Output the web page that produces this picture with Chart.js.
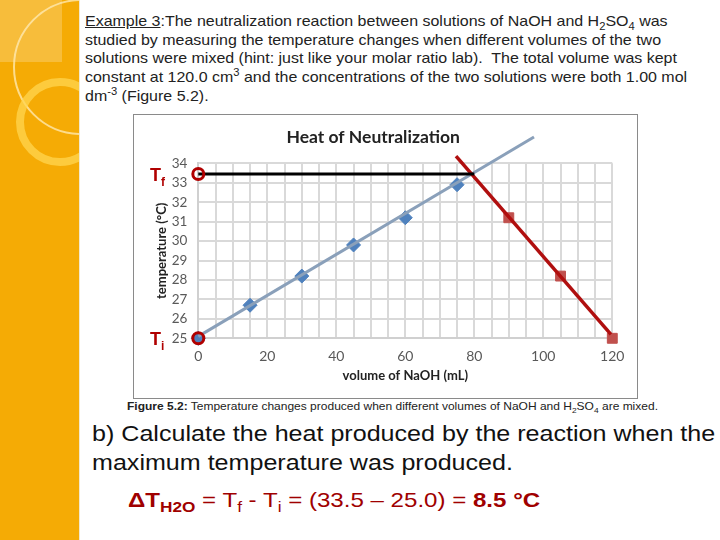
<!DOCTYPE html>
<html>
<head>
<meta charset="utf-8">
<script src="https://cdn.jsdelivr.net/npm/chart.js"></script>
<style>
    html, body { margin: 0; padding: 0; width: 720px; height: 540px; overflow: hidden; background: #fff; }
    body { position: relative; font-family: 'Liberation Sans', Arial, sans-serif; }
    .bar { position: absolute; left: 0; top: 0; width: 79px; height: 540px; background: #f5ab05; overflow: hidden; }
    .bar .sq { position: absolute; left: 0; top: 0; width: 62px; height: 62px; background: rgba(255,255,255,0.22); }
    .bar .c1 { position: absolute; left: 13px; top: -1px; width: 136px; height: 136px; border: 2px solid rgba(255,236,185,0.75); border-radius: 50%; box-sizing: border-box; }
    .bar .c2 { position: absolute; left: 16px; top: 78px; width: 88px; height: 88px; border: 8px solid rgba(255,214,80,0.75); border-radius: 50%; box-sizing: border-box; }
    .edge { position: absolute; left: 79px; top: 0; width: 1px; height: 540px; background: #f1e8cf; }
    .intro { position: absolute; left: 85px; top: 12px; font-size: 15px; line-height: 18.7px; color: #222; white-space: pre; transform: scaleX(1.065); transform-origin: 0 0; }
    .intro sub, .intro sup, .cap sub { font-size: 0.7em; line-height: 0; }
    .frame { position: absolute; left: 133px; top: 114px; width: 505px; height: 285px; border: 1px solid #8a8a8a; box-sizing: border-box; background: #fff; }
    .frame canvas { display: block; }
    .tlab { position: absolute; color: #b00000; font-weight: bold; font-size: 18px; line-height: 18px; }
    .tlab sub { font-size: 12px; line-height: 0; }
    .cap { position: absolute; left: 127px; top: 400px; font-size: 11.5px; color: #222; white-space: pre; transform: scaleX(1.043); transform-origin: 0 0; }
    .ques { position: absolute; left: 92px; top: 420px; font-size: 22px; line-height: 28.5px; color: #111; white-space: pre; transform: scaleX(1.14); transform-origin: 0 0; }
    .delta { position: absolute; left: 128px; top: 488px; font-size: 21px; color: #a00000; white-space: pre; transform: scaleX(1.147); transform-origin: 0 0; }
    .delta sub { font-size: 15px; line-height: 0; }
</style>
</head>
<body>
<div class="bar"><div class="sq"></div><div class="c1"></div><div class="c2"></div></div>
<div class="edge"></div>

<div class="intro"><div><u>Example 3</u>:The neutralization reaction between solutions of NaOH and H<sub>2</sub>SO<sub>4</sub> was</div><div>studied by measuring the temperature changes when different volumes of the two</div><div>solutions were mixed (hint: just like your molar ratio lab).  The total volume was kept</div><div>constant at 120.0 cm<sup>3</sup> and the concentrations of the two solutions were both 1.00 mol</div><div>dm<sup>-3</sup> (Figure 5.2).</div></div>

<div class="frame"><canvas id="heatChart" width="503" height="283"></canvas></div>
<div class="tlab" style="left:150px; top:166px;">T<sub>f</sub></div>
<div class="tlab" style="left:150px; top:330px;">T<sub>i</sub></div>

<div class="cap"><b>Figure 5.2:</b> Temperature changes produced when different volumes of NaOH and H<sub>2</sub>SO<sub>4</sub> are mixed.</div>
<div class="ques">b) Calculate the heat produced by the reaction when the
maximum temperature was produced.</div>
<div class="delta"><b>ΔT<sub>H2O</sub></b> = T<sub>f</sub> - T<sub>i</sub> = (33.5 – 25.0) = <b>8.5 °C</b></div>

<script>
const naohVolume = [0, 15, 30, 45, 60, 75];
const tempRising = [25.0, 26.7, 28.2, 29.8, 31.2, 32.9];
const excessVolume = [90, 105, 120];
const tempFalling = [31.2, 28.2, 25.0];

// hand-drawn lines on the slide
const riseLineX = [0, 97.3];
const riseLineY = [25.1, 35.35];
const fallLineX = [74.7, 119.6];
const fallLineY = [34.37, 25.2];
const tfLineX = [0, 80];
const tempFinal = 33.45;
const tempInitial = 25.0;

const xTicks = [0, 20, 40, 60, 80, 100, 120];

const toPoints = (xs, ys) => xs.map((x, i) => ({ x: x, y: ys[i] }));

const ctx = document.getElementById('heatChart').getContext('2d');
new Chart(ctx, {
    type: 'scatter',
    data: {
        datasets: [
            {
                label: 'Tf / Ti',
                data: [{ x: 0, y: tempFinal }, { x: 0, y: tempInitial }],
                pointStyle: 'circle',
                pointRadius: 5.5,
                pointBorderWidth: 3,
                borderColor: '#b00000',
                backgroundColor: 'rgba(0,0,0,0)',
                clip: false
            },
            {
                label: 'Tf line',
                data: toPoints(tfLineX, [tempFinal, tempFinal]),
                showLine: true,
                borderColor: '#000',
                borderWidth: 3,
                pointRadius: 0,
                clip: false
            },
            {
                label: 'falling trend',
                data: toPoints(fallLineX, fallLineY),
                showLine: true,
                borderColor: '#b00f0f',
                borderWidth: 3.5,
                pointRadius: 0,
                clip: false
            },
            {
                label: 'rising trend',
                data: toPoints(riseLineX, riseLineY),
                showLine: true,
                borderColor: '#8aa0ba',
                borderWidth: 3,
                pointRadius: 0,
                clip: false
            },
            {
                label: 'rising',
                data: toPoints(naohVolume, tempRising),
                pointStyle: 'rectRot',
                pointRadius: 7,
                backgroundColor: '#4f81bd',
                borderColor: '#4f81bd',
                clip: false
            },
            {
                label: 'falling',
                data: toPoints(excessVolume, tempFalling),
                pointStyle: 'rect',
                pointRadius: 7,
                backgroundColor: '#c0504d',
                borderColor: '#c0504d',
                clip: false
            }
        ]
    },
    options: {
        responsive: false,
        animation: false,
        devicePixelRatio: 1,
        layout: { padding: { top: 12, right: 24.7, bottom: 0, left: 0 } },
        plugins: {
            legend: { display: false },
            tooltip: { enabled: false },
            title: {
                display: true,
                text: 'Heat of Neutralization',
                color: '#222',
                font: { family: 'Lato', size: 17.5, weight: 'bold' },
                padding: { top: 0, bottom: 15.3 }
            }
        },
        scales: {
            x: {
                type: 'linear',
                min: 0,
                max: 120,
                ticks: {
                    stepSize: 5,
                    autoSkip: false,
                    maxRotation: 0,
                    minRotation: 0,
                    padding: 10,
                    color: '#595959',
                    font: { family: 'Lato', size: 14 },
                    callback: v => xTicks.includes(v) ? v : ''
                },
                grid: { color: '#d9d9d9', lineWidth: 2, drawTicks: false },
                border: { color: '#d0d0d0', width: 2 },
                title: {
                    display: true,
                    text: 'volume of NaOH (mL)',
                    color: '#222',
                    font: { family: 'Lato', size: 13, weight: 'bold' },
                    padding: { top: 0, bottom: 14.5 }
                },
                afterFit: s => { s.height = 59.7; }
            },
            y: {
                min: 25,
                max: 34,
                ticks: {
                    stepSize: 1,
                    autoSkip: false,
                    padding: 11,
                    color: '#595959',
                    font: { family: 'Lato', size: 13.5 }
                },
                grid: { color: '#d9d9d9', lineWidth: 2, drawTicks: false },
                border: { color: '#d0d0d0', width: 2 },
                title: {
                    display: true,
                    text: 'temperature (°C)',
                    color: '#222',
                    font: { family: 'Lato', size: 13, weight: 'bold' },
                    padding: { top: 20.3, bottom: 0 }
                },
                afterFit: s => { s.width = 64.3; }
            }
        }
    }
});
</script>
</body>
</html>
